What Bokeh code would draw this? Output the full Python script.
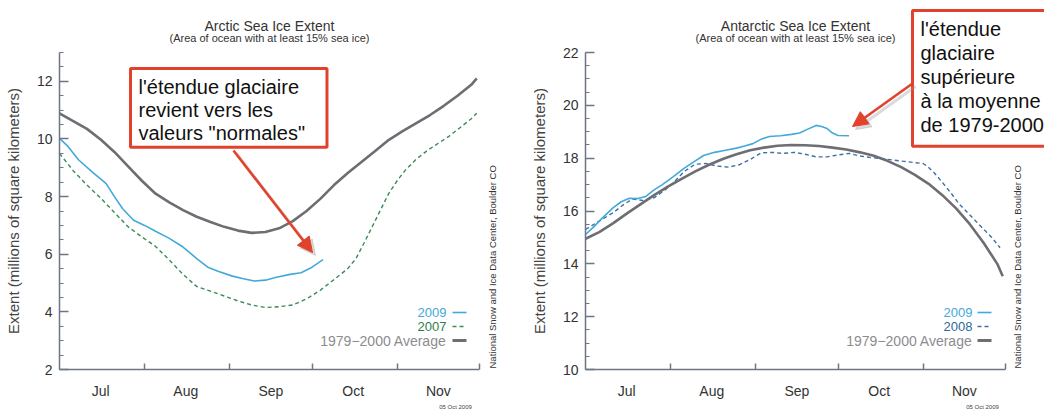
from bokeh.plotting import figure
from bokeh.models import Range1d, FixedTicker, Label, Arrow, NormalHead
from bokeh.layouts import row
from bokeh.embed import file_html
from bokeh.resources import INLINE

# ---------------- data (day 0 = 1 July) ----------------
MONTHS = ["Jul", "Aug", "Sep", "Oct", "Nov"]
MONTH_MID = [15, 46, 77, 107, 138]
MONTH_EDGES = [31, 62, 92, 123, 153]

arc_avg_day = [0, 5, 10, 15, 20, 25, 30, 35, 40, 45, 50, 55, 60, 65, 70, 75, 80, 85, 90, 95,
               100, 105, 110, 115, 120, 125, 130, 135, 140, 145, 150, 152]
arc_avg_val = [10.89, 10.62, 10.35, 9.98, 9.55, 9.05, 8.55, 8.1, 7.8, 7.53, 7.3, 7.12, 6.95, 6.82,
               6.74, 6.77, 6.9, 7.15, 7.5, 7.92, 8.4, 8.82, 9.2, 9.58, 9.97, 10.27, 10.55, 10.83,
               11.15, 11.5, 11.88, 12.1]

arc_2009_day = [0, 3, 7, 12, 17, 20, 23, 27, 31, 35, 40, 45, 50, 54, 58, 63, 67, 71, 75, 79, 84, 88, 92, 96]
arc_2009_val = [10.02, 9.75, 9.27, 8.85, 8.45, 8.0, 7.58, 7.18, 7.0, 6.8, 6.55, 6.25, 5.85, 5.55,
                5.4, 5.24, 5.15, 5.07, 5.1, 5.2, 5.3, 5.36, 5.55, 5.81]

arc_2007_day = [0, 5, 10, 15, 20, 25, 30, 35, 40, 45, 50, 55, 60, 65, 70, 75, 80, 85, 90, 95, 100,
                105, 108, 111, 114, 117, 120, 123, 126, 130, 134, 138, 142, 146, 150, 152]
arc_2007_val = [9.5, 8.9, 8.4, 7.95, 7.45, 6.95, 6.6, 6.27, 5.8, 5.3, 4.88, 4.72, 4.55, 4.38, 4.24,
                4.15, 4.18, 4.24, 4.45, 4.75, 5.12, 5.5, 5.85, 6.4, 6.97, 7.55, 8.12, 8.55, 8.92,
                9.3, 9.6, 9.85, 10.1, 10.4, 10.7, 10.89]

ant_avg_day = [0, 5, 10, 15, 20, 25, 30, 35, 40, 45, 50, 55, 60, 65, 70, 75, 80, 85, 90, 95, 100,
               105, 110, 115, 120, 125, 130, 135, 140, 145, 150, 152]
ant_avg_val = [14.95, 15.2, 15.53, 15.9, 16.25, 16.6, 16.92, 17.22, 17.5, 17.75, 17.97, 18.15, 18.3,
               18.4, 18.47, 18.5, 18.49, 18.46, 18.4, 18.33, 18.22, 18.09, 17.9, 17.66, 17.37,
               17.03, 16.6, 16.1, 15.5, 14.8, 14.0, 13.53]

ant_2009_day = [0, 3, 6, 10, 13, 16, 19, 22, 25, 28, 32, 36, 40, 43, 47, 51, 55, 58, 61, 64, 67,
                71, 75, 78, 81, 84, 86, 88, 90, 92, 96]
ant_2009_val = [15.11, 15.4, 15.72, 16.12, 16.35, 16.48, 16.47, 16.55, 16.8, 17.0, 17.3, 17.62,
                17.9, 18.1, 18.22, 18.3, 18.38, 18.46, 18.55, 18.72, 18.82, 18.85, 18.9, 18.95,
                19.1, 19.24, 19.2, 19.12, 18.95, 18.86, 18.85]

ant_2008_day = [0, 5, 10, 14, 17, 21, 25, 29, 32, 36, 40, 44, 48, 52, 56, 60, 64, 68, 72, 76, 80,
                84, 88, 92, 96, 100, 104, 108, 112, 116, 120, 123, 125, 127, 130, 133, 136, 140,
                144, 148, 151]
ant_2008_val = [15.3, 15.62, 15.93, 16.25, 16.45, 16.4, 16.5, 16.8, 17.07, 17.5, 17.77, 17.8, 17.7,
                17.66, 17.75, 17.95, 18.2, 18.22, 18.18, 18.22, 18.15, 18.05, 18.05, 18.12, 18.18,
                18.08, 18.02, 17.98, 17.93, 17.88, 17.83, 17.8, 17.65, 17.45, 17.08, 16.7, 16.28,
                15.85, 15.42, 15.0, 14.61]

# ---------------- styles ----------------
FONT = "Liberation Sans"
BLUE = "#42a9d9"
GREEN = "#3d8a57"
GREEN_T = "#2f7d4c"
STEEL = "#3d70a2"
STEEL_T = "#2c6a9b"
GRAY = "#6d6d73"
GRAY_T = "#8c8c91"
AXIS = "#6e7585"
RED = "#e2412b"
DARK = "#333333"

FIG_W = 522
FIG_H = 410
AXIS_Y = 369          # pixel row of the x axis
PX_PER_DAY = 420 / 153.0


class Geo:
    """pixel <-> data helper for placing annotations (frame fills the whole canvas)"""
    def __init__(self, x0, fig_left, vmin, vmax, ytop):
        self.x0, self.fig_left, self.vmin, self.vmax = x0, fig_left, vmin, vmax
        self.ppu = (AXIS_Y - ytop) / (vmax - vmin)

    def x(self, px):
        return (px - self.x0) / PX_PER_DAY

    def y(self, py):
        return self.vmin + (AXIS_Y - py) / self.ppu


def make_fig(g):
    p = figure(frame_width=FIG_W, frame_height=FIG_H,
               x_range=Range1d(g.x(g.fig_left), g.x(g.fig_left + FIG_W)),
               y_range=Range1d(g.y(FIG_H), g.y(0)),
               output_backend="svg", toolbar_location=None,
               min_border_left=0, min_border_right=0,
               min_border_top=0, min_border_bottom=0,
               background_fill_color="white", border_fill_color="white",
               outline_line_color=None)
    p.grid.visible = False
    xa = p.xaxis[0]
    xa.fixed_location = g.vmin
    xa.bounds = (0, 153)
    xa.ticker = FixedTicker(ticks=MONTH_MID, minor_ticks=MONTH_EDGES)
    xa.major_label_overrides = {m: t for m, t in zip(MONTH_MID, MONTHS)}
    xa.major_tick_in = 0
    xa.major_tick_out = 0
    xa.minor_tick_in = 6
    xa.minor_tick_out = 0
    xa.minor_tick_line_color = AXIS
    xa.minor_tick_line_width = 1.5
    xa.axis_line_color = AXIS
    xa.axis_line_width = 1.5
    xa.major_label_standoff = 13
    xa.major_label_text_font = FONT
    xa.major_label_text_font_size = "14px"
    xa.major_label_text_color = DARK

    ya = p.yaxis[0]
    vmin, vmax = g.vmin, g.vmax
    ya.fixed_location = 0
    ya.bounds = (vmin, vmax)
    majors = list(range(vmin, vmax + 1, 2))
    minors = [vmin + 0.5 * i for i in range(0, (vmax - vmin) * 2 + 1)]
    ya.ticker = FixedTicker(ticks=majors, minor_ticks=minors)
    ya.major_tick_in = 9
    ya.major_tick_out = 0
    ya.minor_tick_in = 4
    ya.minor_tick_out = 0
    ya.major_tick_line_color = AXIS
    ya.minor_tick_line_color = AXIS
    ya.major_tick_line_width = 1.5
    ya.minor_tick_line_width = 1.2
    ya.axis_line_color = AXIS
    ya.axis_line_width = 1.5
    ya.major_label_standoff = 7
    ya.major_label_text_font = FONT
    ya.major_label_text_font_size = "14px"
    ya.major_label_text_color = DARK
    ya.axis_label = "Extent (millions of square kilometers)"
    ya.axis_label_text_font = FONT
    ya.axis_label_text_font_size = "15px"
    ya.axis_label_text_font_style = "normal"
    ya.axis_label_text_color = "#444444"
    ya.axis_label_standoff = 12
    return p


def lbl(p, x, y, text, size, color=DARK, align="center", baseline="middle", **kw):
    p.add_layout(Label(x=x, y=y, text=text, text_font=FONT, text_font_size=size,
                       text_color=color, text_align=align, text_baseline=baseline, **kw))


def add_legend(p, g, entries, text_right, s0, s1):
    for (name, lcolor, tcolor, dash, lw, fs), py in zip(entries, [312, 326, 340]):
        lbl(p, g.x(text_right), g.y(py), name, fs, tcolor, align="right")
        p.line([g.x(s0), g.x(s1)], [g.y(py), g.y(py)], line_color=lcolor,
               line_width=lw, line_dash=dash)


def add_box(p, g, text, px, py, pad, lh):
    # soft shadow
    p.add_layout(Label(x=g.x(px + 4), y=g.y(py + 4), text=text, text_font=FONT,
                       text_font_size="20px", text_alpha=0, text_line_height=lh,
                       text_align="left", text_baseline="top",
                       background_fill_color="#777777", background_fill_alpha=0.3,
                       padding=pad))
    p.add_layout(Label(x=g.x(px), y=g.y(py), text=text, text_font=FONT,
                       text_font_size="20px", text_color="#111111", text_line_height=lh,
                       text_align="left", text_baseline="top",
                       background_fill_color="white", border_line_color=RED,
                       border_line_width=3, padding=pad))


def add_arrow(p, g, sx, sy, ex, ey):
    # faint shadow, then the red arrow
    p.add_layout(Arrow(end=NormalHead(size=15, fill_color="#999999", fill_alpha=0.35,
                                      line_color="#999999", line_alpha=0.35),
                       x_start=g.x(sx + 3), y_start=g.y(sy + 3),
                       x_end=g.x(ex + 3), y_end=g.y(ey + 3),
                       line_color="#999999", line_alpha=0.35, line_width=3))
    p.add_layout(Arrow(end=NormalHead(size=15, fill_color=RED, line_color=RED),
                       x_start=g.x(sx), y_start=g.y(sy), x_end=g.x(ex), y_end=g.y(ey),
                       line_color=RED, line_width=2.6))


# ---------------- Arctic ----------------
GL = Geo(59, 0, 2, 13, 52)
p1 = make_fig(GL)
p1.line(arc_2007_day, arc_2007_val, line_color=GREEN, line_width=1.4, line_dash="4 3")
p1.line(arc_avg_day, arc_avg_val, line_color=GRAY, line_width=2.6)
p1.line(arc_2009_day, arc_2009_val, line_color=BLUE, line_width=1.6)
lbl(p1, 76.5, GL.y(25), "Arctic Sea Ice Extent", "14px")
lbl(p1, 76.5, GL.y(37), "(Area of ocean with at least 15% sea ice)", "11px")
add_legend(p1, GL, [("2009", BLUE, BLUE, "solid", 1.6, "13px"),
                    ("2007", GREEN, GREEN_T, "4 3", 1.4, "13px"),
                    ("1979\u22122000 Average", GRAY, GRAY_T, "solid", 3, "14px")], 446, 452, 466)
lbl(p1, GL.x(492), GL.y(368), "National Snow and Ice Data Center, Boulder CO", "9.5px",
    align="left", angle=90, angle_units="deg")
lbl(p1, GL.x(455), GL.y(406), "05 Oct 2009", "6px", "#444444")
add_box(p1, GL, "l'étendue glaciaire\nrevient vers les\nvaleurs \"normales\"", 130, 68,
        dict(left=8, right=22, top=7, bottom=3), 1.06)
add_arrow(p1, GL, 233, 150, 312, 252)

# ---------------- Antarctic ----------------
GR = Geo(585, FIG_W, 10, 22, 52)
p2 = make_fig(GR)
p2.line(ant_2008_day, ant_2008_val, line_color=STEEL, line_width=1.4, line_dash="4 3")
p2.line(ant_avg_day, ant_avg_val, line_color=GRAY, line_width=2.6)
p2.line(ant_2009_day, ant_2009_val, line_color=BLUE, line_width=1.6)
lbl(p2, 76.5, GR.y(25), "Antarctic Sea Ice Extent", "14px")
lbl(p2, 76.5, GR.y(37), "(Area of ocean with at least 15% sea ice)", "11px")
add_legend(p2, GR, [("2009", BLUE, BLUE, "solid", 1.6, "13px"),
                    ("2008", STEEL, STEEL_T, "4 3", 1.4, "13px"),
                    ("1979\u22122000 Average", GRAY, GRAY_T, "solid", 3, "14px")], 972, 977, 991)
lbl(p2, GR.x(1017), GR.y(368), "National Snow and Ice Data Center, Boulder CO", "9.5px",
    align="left", angle=90, angle_units="deg")
lbl(p2, GR.x(982), GR.y(406), "05 Oct 2009", "6px", "#444444")
add_box(p2, GR, "l'étendue\nglaciaire\nsupérieure\nà la moyenne\nde 1979-2000", 912, 10,
        dict(left=8, right=20, top=7, bottom=10), 1.10)
add_arrow(p2, GR, 912, 83, 852, 126)

layout = row(p1, p2)
open("out.html", "w").write(file_html(layout, INLINE))
